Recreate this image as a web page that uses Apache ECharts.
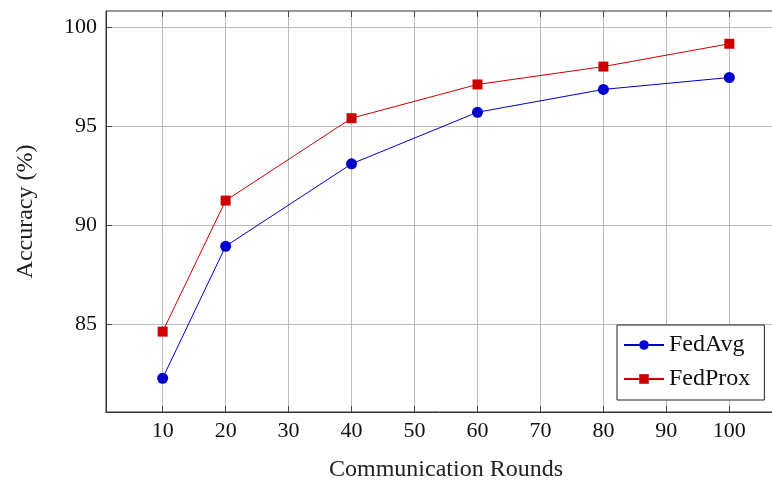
<!DOCTYPE html>
<html>
<head>
<meta charset="utf-8">
<script src="https://cdn.jsdelivr.net/npm/echarts@6/dist/echarts.min.js"></script>
<style>
  html, body { margin: 0; padding: 0; background: #fff; }
  #main { width: 772px; height: 480px; }
</style>
</head>
<body>
<div id="main"></div>
<script>
var rounds = [10, 20, 40, 60, 80, 100];
var fedAvg = [82.3, 88.95, 93.1, 95.7, 96.85, 97.45];
var fedProx = [84.65, 91.25, 95.4, 97.1, 98.0, 99.15];
var xTicks = [10, 20, 30, 40, 50, 60, 70, 80, 90, 100];
var yTicks = [85, 90, 95, 100];

var serif = 'Liberation Serif';
var myChart = echarts.init(document.getElementById('main'));

function pairs(ys) {
    var out = [];
    for (var i = 0; i < rounds.length; i++) out.push([rounds[i], ys[i]]);
    return out;
}

var option = {
    backgroundColor: '#fff',
    animation: false,
    grid: {
        left: 106, top: 11, right: -14, bottom: 68,
        outerBoundsMode: 'none',
        containLabel: false,
        show: true, borderColor: '#333', borderWidth: 1
    },
    legend: {
        left: 617, top: 325,
        orient: 'vertical',
        backgroundColor: '#fff',
        borderColor: '#222', borderWidth: 1,
        padding: [8, 14, 9, 6],
        itemGap: 10,
        itemWidth: 40, itemHeight: 12,
        textStyle: { fontFamily: serif, fontSize: 24, color: '#111' },
        data: ['FedAvg', 'FedProx']
    },
    xAxis: [{
        type: 'value',
        min: 1, max: 109,
        position: 'bottom',
        name: 'Communication Rounds',
        nameLocation: 'middle',
        nameGap: 46,
        nameTextStyle: { fontFamily: serif, fontSize: 24, color: '#222' },
        axisLine: { lineStyle: { color: '#333' } },
        axisTick: { show: true, inside: true, length: 6, lineStyle: { color: '#444' }, customValues: xTicks },
        axisLabel: { fontFamily: serif, fontSize: 22, color: '#111', margin: 8, customValues: xTicks },
        splitLine: { show: true, lineStyle: { color: '#bbb', width: 1 } },
        splitNumber: 11
    }, {
        type: 'value',
        min: 1, max: 109,
        position: 'top',
        axisLine: { show: false },
        axisTick: { show: true, inside: true, length: 6, lineStyle: { color: '#444' }, customValues: xTicks },
        axisLabel: { show: false },
        splitLine: { show: false },
        splitNumber: 11
    }],
    yAxis: {
        type: 'value',
        min: 80.6, max: 100.8,
        name: 'Accuracy (%)',
        nameLocation: 'middle',
        nameGap: 68,
        nameTextStyle: { fontFamily: serif, fontSize: 24, color: '#222' },
        axisLine: { show: true, lineStyle: { color: '#333' } },
        axisTick: { show: true, inside: true, length: 6, lineStyle: { color: '#444' }, customValues: yTicks },
        axisLabel: { fontFamily: serif, fontSize: 22, color: '#111', margin: 9, customValues: yTicks },
        splitLine: { show: true, lineStyle: { color: '#bbb', width: 1 } },
        splitNumber: 4
    },
    series: [{
        name: 'FedAvg',
        type: 'line',
        data: pairs(fedAvg),
        symbol: 'circle',
        symbolSize: 11,
        color: '#0000cc',
        lineStyle: { width: 1, color: '#0000cc' },
        itemStyle: { color: '#0000cc' }
    }, {
        name: 'FedProx',
        type: 'line',
        data: pairs(fedProx),
        symbol: 'rect',
        symbolSize: 10,
        color: '#cc0000',
        lineStyle: { width: 1, color: '#cc0000' },
        itemStyle: { color: '#cc0000' }
    }]
};
myChart.setOption(option);
</script>
</body>
</html>
